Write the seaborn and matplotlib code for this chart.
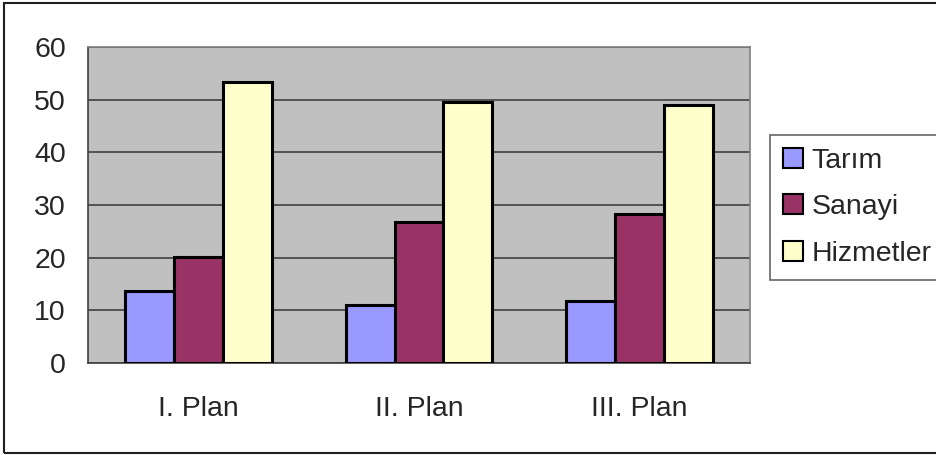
import matplotlib
matplotlib.use("Agg")
import matplotlib.pyplot as plt
import seaborn as sns
import pandas as pd
from matplotlib.patches import Rectangle, Patch

categories = ["I. Plan", "II. Plan", "III. Plan"]
series = ["Tarım", "Sanayi", "Hizmetler"]
tarim = [13.7, 11.0, 11.8]
sanayi = [20.2, 26.7, 28.2]
hizmetler = [53.4, 49.6, 48.9]
yticks = [0, 10, 20, 30, 40, 50, 60]
colors = ["#9999FF", "#993366", "#FFFFCC"]

rows = []
for s, vals in zip(series, [tarim, sanayi, hizmetler]):
    for c, v in zip(categories, vals):
        rows.append({"Plan": c, "Sektör": s, "Değer": v})
df = pd.DataFrame(rows)

sns.set_style("white")
plt.rcParams["font.family"] = ["Liberation Sans", "DejaVu Sans"]
FS = 20.5

fig = plt.figure(figsize=(9.36, 4.55), dpi=100)
ax = fig.add_axes([88/936, 1 - 363/455, (750-88)/936, (363-47)/455])
ax.set_facecolor("#C0C0C0")

sns.barplot(data=df, x="Plan", y="Değer", hue="Sektör", order=categories,
            hue_order=series, palette=colors, width=0.665, gap=0,
            edgecolor="black", linewidth=2.2, saturation=1, ax=ax,
            legend=False, zorder=3)

ax.set_xlim(-0.5, 2.5)
ax.set_ylim(0, 60)
ax.set_yticks(yticks)
ax.set_yticklabels([str(t) for t in yticks], fontsize=FS)
ax.yaxis.grid(True, color="#404040", linewidth=1.2, zorder=0)
ax.set_axisbelow(True)
ax.set_xlabel("")
ax.set_ylabel("")

ax.set_xticks([-0.5, 0.5, 1.5, 2.5])
ax.set_xticklabels([])
ax.set_xticks([0, 1, 2], minor=True)
ax.set_xticklabels(categories, minor=True, fontsize=FS)
ax.tick_params(axis="x", which="major", direction="out", length=7, width=1, color="#404040")
ax.tick_params(axis="x", which="minor", length=0, pad=24)
ax.tick_params(axis="y", direction="out", length=5, width=1, color="black", pad=11)

for side in ["left", "bottom"]:
    ax.spines[side].set_color("#404040")
    ax.spines[side].set_linewidth(1.2)
for side in ["top", "right"]:
    ax.spines[side].set_color("#808080")
    ax.spines[side].set_linewidth(1.2)

handles = [Patch(facecolor=c, edgecolor="black", linewidth=1.5, label=s)
           for c, s in zip(colors, series)]
leg = fig.legend(handles=handles, loc="upper left",
                 bbox_to_anchor=(770/936, 1 - 135/455), fontsize=FS,
                 frameon=True, fancybox=False, shadow=False,
                 handlelength=0.7, handleheight=0.7, handletextpad=0.3,
                 labelspacing=0.72, borderpad=0.45, borderaxespad=0)
leg.get_frame().set_edgecolor("#404040")
leg.get_frame().set_linewidth(1.2)

fig.patches.append(Rectangle((4/936, 2/455), 950/936, 450/455, transform=fig.transFigure,
                             fill=False, edgecolor="#202020", linewidth=1.5, clip_on=False))

fig.savefig("out.png", dpi=100)
